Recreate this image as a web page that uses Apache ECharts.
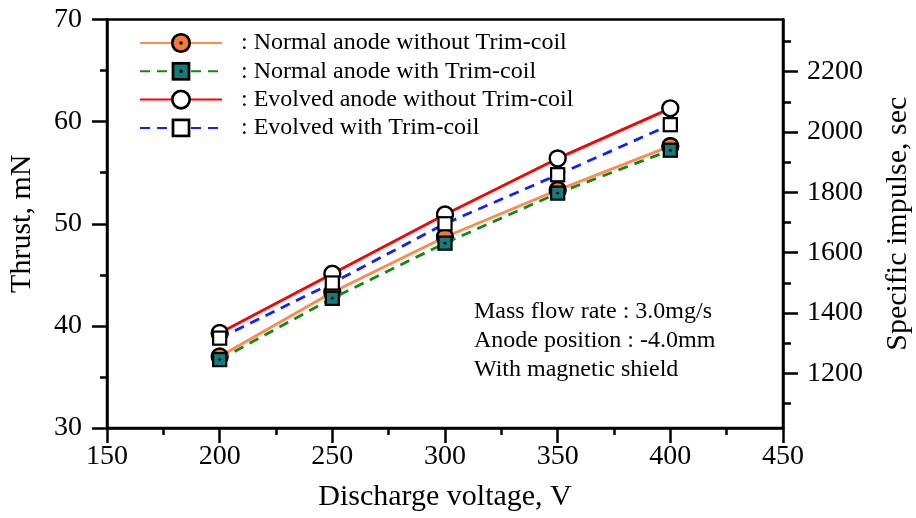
<!DOCTYPE html>
<html><head><meta charset="utf-8">
<script src="https://cdn.jsdelivr.net/npm/echarts@6/dist/echarts.min.js"></script>
<style>html,body{margin:0;padding:0;background:#fff}#c{width:916px;height:518px}</style>
</head><body><div id="c"></div>
<script>
// ---- data ----
const voltage = [200, 250, 300, 350, 400];
const seriesNames = [
  'Normal anode without Trim-coil',
  'Normal anode with Trim-coil',
  'Evolved anode without Trim-coil',
  'Evolved with Trim-coil'
];
const normalNoTrim  = [37.0, 43.3, 48.7, 53.3, 57.6];
const normalTrim    = [36.7, 42.7, 48.1, 53.0, 57.2];
const evolvedNoTrim = [39.3, 45.1, 50.9, 56.4, 61.3];
const evolvedTrim   = [38.8, 44.2, 50.0, 54.8, 59.7];
const xRange = [150, 450];
const thrustRange = [30, 70];
const ispRange = [1019, 2373];
const ispMajorTicks = [1200, 1400, 1600, 1800, 2000, 2200];
const ispMinorTicks = [1100, 1300, 1500, 1700, 1900, 2100, 2300];
const noteLines = ['Mass flow rate : 3.0mg/s', 'Anode position : -4.0mm', 'With magnetic shield'];

// ---- styling ----
const FONT = '"Liberation Serif", "Times New Roman", serif';
function sym(shape, fill, dot) {
  let s = "<svg xmlns='http://www.w3.org/2000/svg' width='40' height='40' viewBox='0 0 20 20'>";
  if (shape === 'circle') s += "<circle cx='10' cy='10' r='8.4' fill='" + fill + "' stroke='black' stroke-width='2.6'/>";
  else s += "<rect x='2.3' y='2.3' width='15.4' height='15.4' fill='" + fill + "' stroke='black' stroke-width='2.6'/>";
  if (dot) s += "<circle cx='10' cy='10' r='1.7' fill='black'/>";
  s += "</svg>";
  return 'image://data:image/svg+xml;charset=utf-8,' + encodeURIComponent(s);
}
const styles = [
  { color: '#ff8a4c', type: 'solid', symbol: sym('circle', '#f47b35', true), size: 19 },
  { color: '#12871a', type: [10, 7], symbol: sym('rect', '#157b7b', true), size: 17 },
  { color: '#ff0000', type: 'solid', symbol: sym('circle', '#ffffff', false), size: 19 },
  { color: '#1020ff', type: [10, 7], symbol: sym('rect', '#ffffff', false), size: 17 }
];
const values = [normalNoTrim, normalTrim, evolvedNoTrim, evolvedTrim];

const axisLineStyle = { color: '#000', width: 2.5 };
const tickStyle = { color: '#000', width: 2.5 };

const chart = echarts.init(document.getElementById('c'));
chart.setOption({
  animation: false,
  backgroundColor: '#fff',
  textStyle: { fontFamily: FONT, color: '#000' },
  grid: { left: 107, right: 133, top: 19.5, bottom: 90, show: true, borderColor: '#000', borderWidth: 2.5,
          containLabel: false, outerBoundsMode: 'none' },
  legend: {
    orient: 'vertical', left: 134, top: 26,
    itemWidth: 82, itemHeight: 26, itemGap: 4.3,
    data: seriesNames,
    formatter: n => ': ' + n,
    textStyle: { fontFamily: FONT, fontSize: 24, color: '#000', padding: [0, 0, 0, 14] }
  },
  xAxis: {
    type: 'value', min: xRange[0], max: xRange[1], interval: 50,
    axisLine: { show: true, lineStyle: axisLineStyle },
    axisTick: { show: true, length: 15, lineStyle: tickStyle },
    minorTick: { show: true, splitNumber: 2, length: 7, lineStyle: tickStyle },
    splitLine: { show: false },
    axisLabel: { fontSize: 28, color: '#000', fontFamily: FONT, margin: 15 },
    name: 'Discharge voltage, V', nameLocation: 'middle', nameGap: 54,
    nameTextStyle: { fontSize: 30, color: '#000', fontFamily: FONT }
  },
  yAxis: [
    {
      type: 'value', min: thrustRange[0], max: thrustRange[1], interval: 10, position: 'left',
      axisLine: { show: true, lineStyle: axisLineStyle },
      axisTick: { show: true, length: 15, lineStyle: tickStyle },
      minorTick: { show: true, splitNumber: 2, length: 7, lineStyle: tickStyle },
      splitLine: { show: false },
      axisLabel: { fontSize: 28, color: '#000', fontFamily: FONT, margin: 25 },
      name: 'Thrust, mN', nameLocation: 'middle', nameGap: 70,
      nameTextStyle: { fontSize: 30, color: '#000', fontFamily: FONT }
    },
    {
      type: 'value', min: ispRange[0], max: ispRange[1], position: 'right',
      axisLine: { show: true, lineStyle: axisLineStyle },
      axisTick: { show: true, length: 15, lineStyle: tickStyle, customValues: ispMajorTicks },
      splitLine: { show: false },
      axisLabel: { fontSize: 28, color: '#000', fontFamily: FONT, margin: 24, customValues: ispMajorTicks,
                   formatter: v => String(v) },
      name: 'Specific impulse, sec', nameLocation: 'middle', nameGap: 100,
      nameTextStyle: { fontSize: 30, color: '#000', fontFamily: FONT }
    },
    {
      type: 'value', min: ispRange[0], max: ispRange[1], position: 'right',
      axisLine: { show: false },
      axisTick: { show: true, length: 8, lineStyle: tickStyle, customValues: ispMinorTicks },
      splitLine: { show: false },
      axisLabel: { show: false }
    }
  ],
  graphic: [{
    type: 'text', left: 474, top: 297,
    style: { text: noteLines.join('\n'), font: '24px ' + FONT, lineHeight: 29, fill: '#000' }
  }],
  series: seriesNames.map((name, i) => ({
    name, type: 'line', yAxisIndex: 0,
    data: voltage.map((v, j) => [v, values[i][j]]),
    symbol: styles[i].symbol, symbolSize: styles[i].size, showAllSymbol: true,
    lineStyle: { color: styles[i].color, width: 2.8, type: styles[i].type },
    itemStyle: { color: styles[i].color },
    z: 2 + i
  }))
});
</script></body></html>
